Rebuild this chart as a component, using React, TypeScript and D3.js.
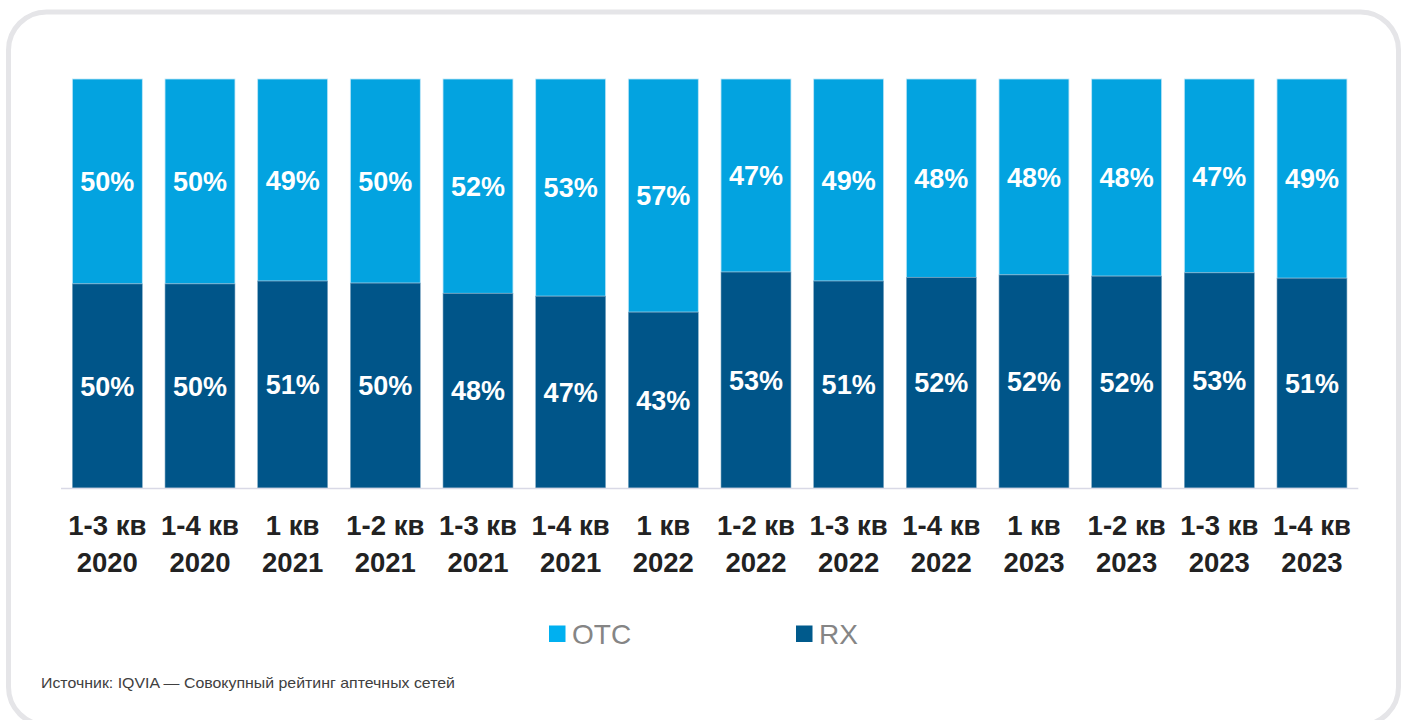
import React from "react";
import * as d3 from "d3";

const periods = ["1-3 кв", "1-4 кв", "1 кв", "1-2 кв", "1-3 кв", "1-4 кв", "1 кв", "1-2 кв", "1-3 кв", "1-4 кв", "1 кв", "1-2 кв", "1-3 кв", "1-4 кв"];
const years = ["2020", "2020", "2021", "2021", "2021", "2021", "2022", "2022", "2022", "2022", "2023", "2023", "2023", "2023"];
const rxShare = [49.9, 49.9, 50.6, 50.1, 47.6, 46.9, 43.0, 52.8, 50.6, 51.5, 52.1, 51.8, 52.6, 51.3];
const otcLabels = [50, 50, 49, 50, 52, 53, 57, 47, 49, 48, 48, 48, 47, 49];
const rxLabels = [50, 50, 51, 50, 48, 47, 43, 53, 51, 52, 52, 52, 53, 51];
const seriesNames = ["OTC", "RX"];

const W = 1402;
const H = 720;
const OTC_COLOR = "#03a3e0";
const RX_COLOR = "#005589";
const FONT = "'Liberation Sans', Arial, Helvetica, sans-serif";

export default function App() {
  const keys = periods.map((p, i) => `${i}`);
  const x = d3.scaleBand<string>().domain(keys).range([61, 1358.3]).paddingInner(0.245).paddingOuter(0.1225);
  const y = d3.scaleLinear().domain([0, 100]).range([488, 79]);
  const bw = x.bandwidth();

  return (
    <svg width={W} height={H} style={{ position: "absolute", left: 0, top: 0, background: "#fff" }} fontFamily={FONT}>
      <rect x={8.5} y={12} width={1390} height={713} rx={38} ry={38} fill="#fff" stroke="#e5e5e8" strokeWidth={5} />
      {keys.map((k, i) => {
        const x0 = x(k)!;
        const cx = x0 + bw / 2;
        const yMid = y(rxShare[i]);
        const yTop = y(100);
        const yBase = y(0);
        return (
          <g key={k}>
            <rect x={x0} y={yTop} width={bw} height={yMid - yTop} fill={OTC_COLOR} stroke="#bfe6f7" strokeWidth={0.8} />
            <rect x={x0} y={yMid} width={bw} height={yBase - yMid} fill={RX_COLOR} stroke="#7fa8c4" strokeWidth={0.6} />
            <text x={cx} y={(yTop + yMid) / 2} dy="0.36em" textAnchor="middle" fill="#fff" fontWeight="bold" fontSize={27}>
              {otcLabels[i]}%
            </text>
            <text x={cx} y={(yMid + yBase) / 2} dy="0.36em" textAnchor="middle" fill="#fff" fontWeight="bold" fontSize={27}>
              {rxLabels[i]}%
            </text>
            <text x={cx} y={525} dy="0.36em" textAnchor="middle" fill="#222" fontWeight="bold" fontSize={27.5}>
              {periods[i]}
            </text>
            <text x={cx} y={562} dy="0.36em" textAnchor="middle" fill="#222" fontWeight="bold" fontSize={27.5}>
              {years[i]}
            </text>
          </g>
        );
      })}
      <line x1={61} x2={1358.3} y1={488.5} y2={488.5} stroke="#d9d9e6" strokeWidth={1.5} />
      {seriesNames.map((name, i) => {
        const lx = i === 0 ? 549 : 796;
        return (
          <g key={name}>
            <rect x={lx} y={625.5} width={16.5} height={16.5} fill={i === 0 ? "#00b0f0" : "#005a8c"} />
            <text x={lx + 23} y={644} fill="#858585" fontSize={28}>
              {name}
            </text>
          </g>
        );
      })}
      <text x={41} y={688} fill="#404040" fontSize={15} textLength={414} lengthAdjust="spacingAndGlyphs">
        Источник: IQVIA — Совокупный рейтинг аптечных сетей
      </text>
    </svg>
  );
}
